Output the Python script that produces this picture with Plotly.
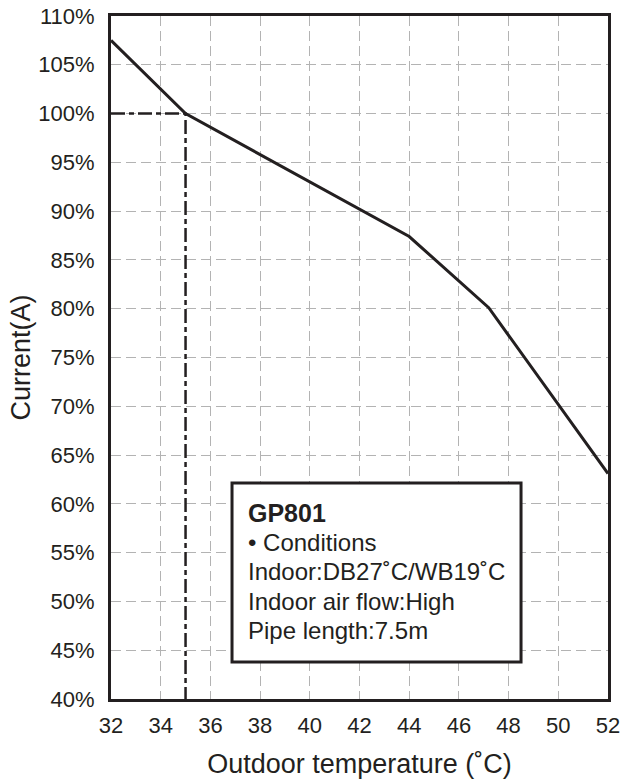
import plotly.graph_objects as go

# curve (outdoor temp degC -> current %)
temp = [32, 35, 44, 47.2, 52]
current = [107.5, 100, 87.4, 80.1, 63.1]

# rated point guide lines
ref_x = [32, 35, 35]
ref_y = [100, 100, 40]

x_ticks = list(range(32, 53, 2))
y_ticks = list(range(40, 111, 5))
y_labels = [f"{v}%" for v in y_ticks]

box_lines = [
    "<b>GP801</b>",
    "• Conditions",
    "Indoor:DB27˚C/WB19˚C",
    "Indoor air flow:High",
    "Pipe length:7.5m",
]
box_line_y = [59.06, 55.99, 53.02, 50.04, 47.07]

ink = "#231f20"
font = "Liberation Sans, Arial, Helvetica, sans-serif"

fig = go.Figure()
fig.add_trace(go.Scatter(
    x=ref_x, y=ref_y, mode="lines",
    line=dict(color=ink, width=2.5, dash="14px,4px,5px,4px"),
    hoverinfo="skip",
))
fig.add_trace(go.Scatter(
    x=temp, y=current, mode="lines",
    line=dict(color=ink, width=3),
))

fig.add_shape(
    type="rect", x0=36.87, x1=48.5, y0=43.79, y1=62.14,
    line=dict(color=ink, width=3), fillcolor="white", layer="above",
)
for txt, yy in zip(box_lines, box_line_y):
    fig.add_annotation(
        x=37.42, y=yy, text=txt, showarrow=False,
        xanchor="left", yanchor="middle",
        font=dict(size=25 if "GP" in txt else 24, color=ink, family=font),
    )

grid = dict(showgrid=True, gridcolor="#b3b3b3", gridwidth=1.3, griddash="10px,5px")
fig.update_xaxes(
    range=[32, 52], tickvals=x_ticks, ticks="", ticklabelstandoff=5,
    showline=True, linecolor=ink, linewidth=3, mirror=True, zeroline=False,
    automargin=False, ticklabeloverflow="allow",
    title=dict(text="Outdoor temperature (˚C)", font=dict(size=27, color=ink), standoff=17),
    tickfont=dict(size=22, color=ink), **grid,
)
fig.update_yaxes(
    range=[40, 110], tickvals=y_ticks, ticktext=y_labels, ticks="", ticklabelstandoff=9,
    showline=True, linecolor=ink, linewidth=3, mirror=True, zeroline=False,
    automargin=False, ticklabeloverflow="allow",
    title=dict(text="Current(A)", font=dict(size=27, color=ink), standoff=0),
    tickfont=dict(size=22, color=ink), **grid,
)
fig.update_layout(
    width=623, height=783,
    margin=dict(l=111, r=15, t=16, b=84),
    plot_bgcolor="white", paper_bgcolor="white",
    showlegend=False,
    font=dict(family=font, color=ink),
)

# drop the default 8px body margin so the figure fills the window exactly
fig.write_html(
    "out.html",
    config={"displayModeBar": False},
    post_script="document.body.style.margin='0';",
)
